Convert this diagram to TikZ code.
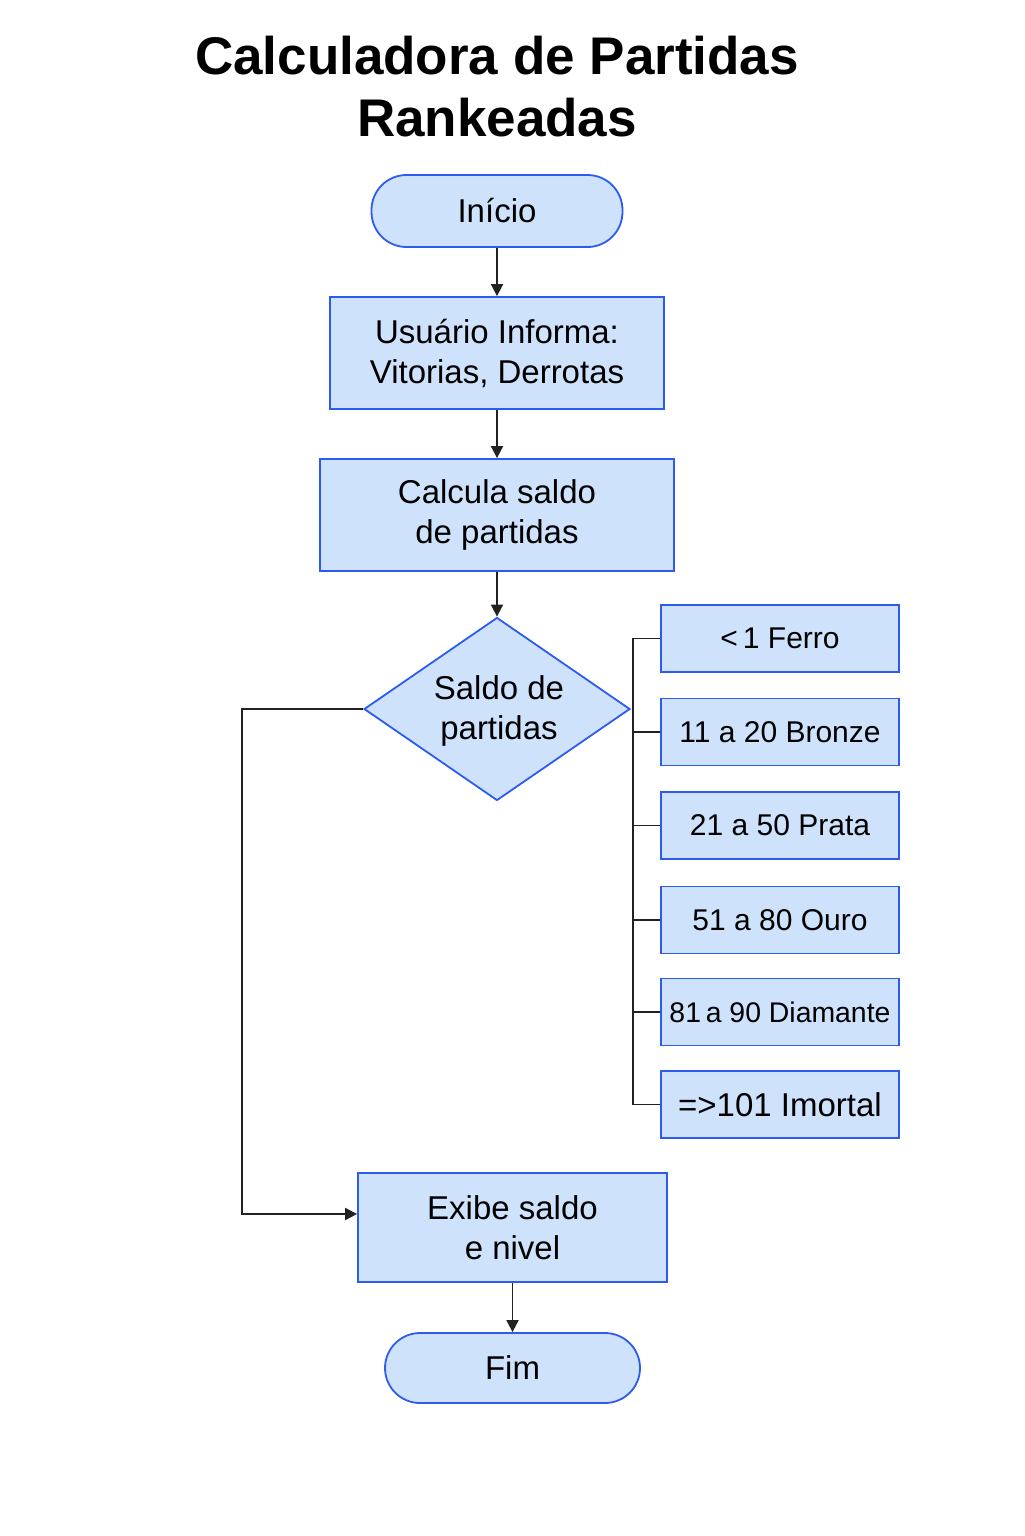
\documentclass[tikz,border=0pt]{standalone}
\usepackage{fontspec}
\setmainfont{Liberation Sans}
\usetikzlibrary{shapes.geometric,arrows.meta}
\definecolor{boxfill}{HTML}{CFE2FC}
\definecolor{boxline}{HTML}{2D5BF0}
\definecolor{conn}{HTML}{222222}
\begin{document}
\begin{tikzpicture}[x=0.5pt,y=-0.5pt,
  every node/.style={font=\fontsize{16.5pt}{20pt}\selectfont, text=black, align=center, inner sep=0pt},
  base/.style={draw=boxline, fill=boxfill, line width=0.9pt},
  term/.style={base, rounded corners=17.5pt, minimum width=125.5pt, minimum height=36pt},
  proc/.style={base, rectangle},
  dec/.style={base, diamond, inner sep=0pt},
  lvl/.style={base, rectangle, minimum width=119pt, minimum height=33.5pt, font=\fontsize{15pt}{18pt}\selectfont},
  conn/.style={draw=conn, line width=0.9pt},
  arr/.style={conn, -{Triangle[length=6pt,width=6pt]}}
]
\useasboundingbox (0,0) rectangle (1024,1536);
\node[font=\fontsize{26.5pt}{32pt}\selectfont\bfseries] (title) at (497,87) {Calculadora de Partidas\\[-1pt]Rankeadas};

\node[term] (ini) at (497,211) {Início};
\node[proc, minimum width=167pt, minimum height=56pt] (usr) at (497,353) {Usuário Informa:\\Vitorias, Derrotas};
\node[proc, minimum width=177pt, minimum height=56pt] (calc) at (497,515) {Calcula saldo\\de partidas};
\node[dec, minimum width=133pt, minimum height=91.5pt, shape aspect=1.45] (dec) at (497,709) {};
\node (dectxt) at (499,711) {Saldo de\\partidas};
\node[proc, minimum width=154.5pt, minimum height=54.5pt] (exibe) at (512.5,1227.5) {Exibe saldo\\e nivel};
\node[term, minimum width=127.5pt, minimum height=35pt] (fim) at (512.5,1368) {Fim};

\node[lvl] (l1) at (780,638.5) {<\,1 Ferro};
\node[lvl] (l2) at (780,732) {11 a 20 Bronze};
\node[lvl] (l3) at (780,825.5) {21 a 50 Prata};
\node[lvl] (l4) at (780,920) {51 a 80 Ouro};
\node[lvl, font=\fontsize{14.2pt}{18pt}\selectfont] (l5) at (780,1012) {81\,a 90 Diamante};
\node[lvl, font=\fontsize{16.5pt}{20pt}\selectfont] (l6) at (780,1104.5) {=>101 Imortal};

\coordinate (bus1) at (633,638.5);
\coordinate (bus6) at (633,1104.5);
\coordinate (lt) at (242,709);
\coordinate (lb) at (242,1214);

\draw[arr] (ini) -- (usr);
\draw[arr] (usr) -- (calc);
\draw[arr] (calc) -- (dec.north);
\draw[arr] (exibe.south) -- (fim);
\draw[arr] (dec.west) -- (lt) -- (lb) -- (exibe.west |- lb);

\draw[conn] (l1.west) -- (bus1) -- (bus6) -- (l6.west);
\foreach \n in {l2,l3,l4,l5} \draw[conn] (\n.west) -- (bus1 |- \n.west);
\end{tikzpicture}
\end{document}
